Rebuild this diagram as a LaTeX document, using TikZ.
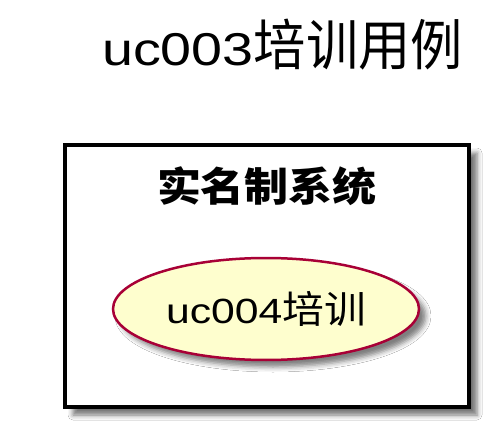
\documentclass[tikz,border=0pt]{standalone}
\usepackage{fontspec}
\setmainfont{Liberation Sans}
\newfontfamily\cjk{Noto Sans CJK SC}
\usetikzlibrary{shapes.geometric,shadows.blur}
\definecolor{ucfill}{HTML}{FEFECE}
\definecolor{ucline}{HTML}{A80036}
\tikzset{
  sysbox/.style={draw=black, line width=3.5pt, fill=white, rectangle, inner sep=0pt,
    blur shadow={shadow xshift=8pt, shadow yshift=-8pt, shadow blur radius=5pt, shadow opacity=55}},
  usecase/.style={ellipse, draw=ucline, line width=2.5pt, fill=ucfill, inner sep=0pt,
    blur shadow={shadow xshift=7pt, shadow yshift=-7pt, shadow blur radius=5pt, shadow opacity=50}},
}
\begin{document}
\begin{tikzpicture}[x=1pt,y=1pt]
\useasboundingbox[fill=white] (0,0) rectangle (499,-436);
\node[anchor=base west, inner sep=0pt] (title) at (102,-66)
  {\scalebox{1.21}[1]{\fontsize{46}{52}\selectfont uc003}%
   \scalebox{0.95}[1]{\fontsize{55}{60}\selectfont\cjk 培训用例}};
\node[sysbox, minimum width=404pt, minimum height=262pt] (sys) at (267,-276) {};
\node[anchor=center] (systitle) at (267,-186)
  {\scalebox{1.1}[1]{\fontsize{40}{48}\selectfont\cjk\bfseries 实名制系统}};
\node[usecase, minimum width=306pt, minimum height=102pt] (uc) at (266,-309)
  {\raisebox{-4pt}{\scalebox{1.22}[1]{\fontsize{35}{40}\selectfont uc004}%
   \scalebox{1.1}[1]{\fontsize{38}{42}\selectfont\cjk 培训}}};
\end{tikzpicture}
\end{document}
